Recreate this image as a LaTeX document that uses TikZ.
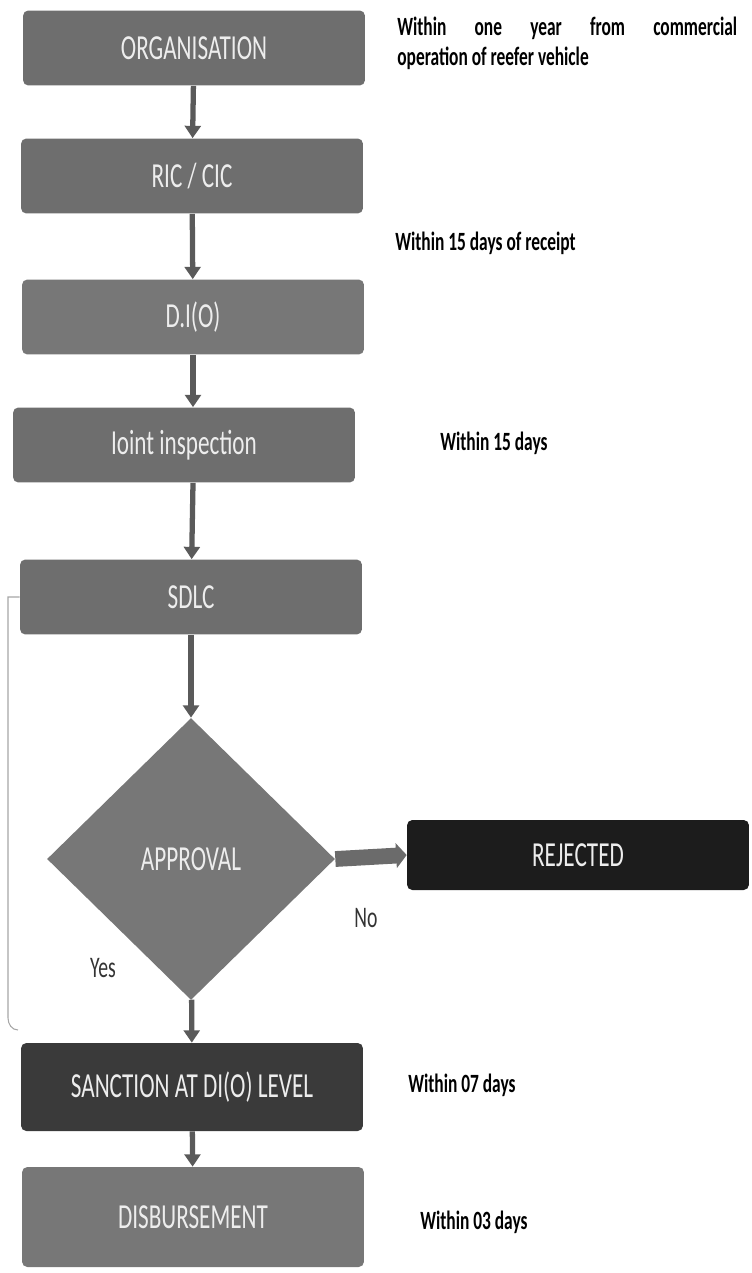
\documentclass[tikz,border=0pt]{standalone}
\usepackage{fontspec}
\setmainfont{Carlito}
\usepackage{xcolor}
\usetikzlibrary{shapes.geometric,arrows.meta}

\definecolor{boxgray}{HTML}{6E6E6E}
\definecolor{lightgray}{HTML}{777777}
\definecolor{darkbox}{HTML}{3A3A3A}
\definecolor{rejbox}{HTML}{1C1C1C}
\definecolor{arrgray}{HTML}{5A5A5A}
\definecolor{labtext}{HTML}{EDEDED}

\newcommand{\squeeze}[1]{\scalebox{0.66}[1]{#1}}

\tikzset{
  stepbox/.style={fill=#1, rounded corners=3pt, text=labtext,
    minimum width=6.84cm, minimum height=1.5cm, inner sep=0pt,
    font=\fontsize{20}{22}\selectfont},
  decision/.style={diamond, fill=lightgray, text=labtext, inner sep=0pt,
    minimum width=5.76cm, minimum height=5.64cm,
    font=\fontsize{20}{22}\selectfont},
  note/.style={anchor=west, inner sep=0pt, font=\bfseries\fontsize{15}{17}\selectfont},
  flow/.style={draw=arrgray, line width=3pt, -{Triangle[width=9pt,length=7pt]}},
  bigflow/.style={draw=arrgray!90, line width=9pt, -{Triangle[width=14pt,length=6pt]}},
  bracket/.style={draw=gray!70, line width=0.6pt},
  answer/.style={text=black!80, inner sep=0pt, font=\fontsize{17}{19}\selectfont}
}

\begin{document}
\begin{tikzpicture}[x=0.02cm, y=-0.02cm]
        \useasboundingbox (0,0) rectangle (751,1273);

        \node[stepbox=boxgray] (org) at (194,48) {\squeeze{ORGANISATION}};
        \node[stepbox=boxgray] (ric) at (192,176) {\squeeze{RIC / CIC}};
        \node[stepbox=lightgray] (dio) at (193,317) {\squeeze{D.I(O)}};
        \node[stepbox=boxgray] (joint) at (184,445) {\squeeze{Ioint inspection}};
        \node[stepbox=boxgray] (sdlc) at (191,597) {\squeeze{SDLC}};
        \node[decision] (appr) at (191,859) {\squeeze{APPROVAL}};
        \node[stepbox=rejbox, minimum height=1.4cm] (rej) at (578,855) {\squeeze{REJECTED}};
        \node[stepbox=darkbox, minimum height=1.76cm] (sanc) at (192,1087) {\squeeze{SANCTION AT DI(O) LEVEL}};
        \node[stepbox=lightgray, minimum height=2cm] (disb) at (193,1217) {\squeeze{DISBURSEMENT}};

        \node[anchor=north west, inner sep=0pt, font=\bfseries\fontsize{15}{17}\selectfont] (n1) at (397,17)
          {\squeeze{\parbox{10.3cm}{Within one year from commercial\linebreak operation of reefer vehicle}}};
        \node[note] (n2) at (395,243) {\squeeze{Within 15 days of receipt}};
        \node[note] (n3) at (440,443) {\squeeze{Within 15 days}};
        \node[note] (n4) at (408,1085) {\squeeze{Within 07 days}};
        \node[note] (n5) at (420,1222) {\squeeze{Within 03 days}};

        \node[answer] (no) at (366,918) {\squeeze{No}};
        \node[answer] (yes) at (103,968) {\squeeze{Yes}};

        \draw[flow] (org) -- (ric);
        \draw[flow] (ric) -- (dio);
        \draw[flow] (dio) -- (joint.north -| dio);
        \draw[flow] (joint.south -| dio) -- (sdlc);
        \draw[flow] (sdlc) -- (appr);
        \draw[bigflow] (appr.east) -- (rej.west);
        \draw[flow] (appr) -- (sanc);
        \draw[flow] (sanc) -- (disb);

        \coordinate (hook) at (18,1030);
        \draw[bracket] (sdlc.west) -- (8,597) -- (8,1018) to[out=-90,in=180] (hook);
    \end{tikzpicture}
\end{document}
